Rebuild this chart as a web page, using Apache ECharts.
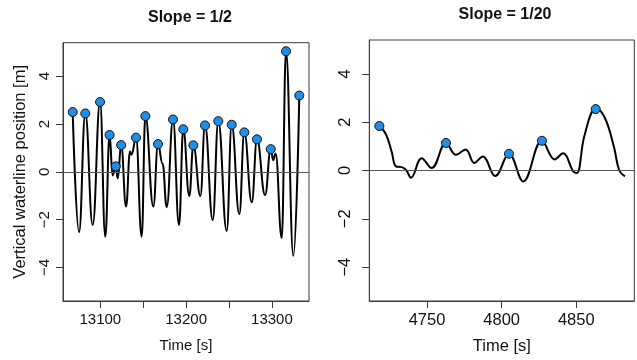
<!DOCTYPE html>
<html>
<head>
<meta charset="utf-8">
<script src="https://cdn.jsdelivr.net/npm/echarts@6/dist/echarts.min.js"></script>
<style>
html,body{margin:0;padding:0;background:#fff;}
#chart{width:637px;height:360px;}
</style>
</head>
<body>
<div id="chart"></div>
<script>
// ---- Data ----
const titles = ['Slope = 1/2', 'Slope = 1/20'];
const xAxisTitle = 'Time [s]';
const yAxisTitle = 'Vertical waterline position [m]';

// Left panel (slope 1/2): waterline trace
const leftTime = [13067.8,13075.2,13082.5,13091.1,13099.7,13105.8,13110.8,13114.3,13118.0,13120.3,13124.3,13130.0,13134.6,13136.4,13141.6,13148.2,13152.5,13161.8,13167.2,13172.5,13177.4,13184.7,13191.7,13196.7,13203.7,13208.4,13216.6,13222.0,13231.0,13237.5,13247.3,13253.1,13262.0,13267.8,13276.5,13282.6,13292.0,13298.6,13301.5,13304.3,13311.4,13316.4,13325.0,13331.9];
const leftValue = [2.50,-2.52,2.44,-2.22,2.92,-2.71,1.54,-0.15,0.23,-0.27,1.12,-1.45,0.85,0.72,1.43,-2.71,2.33,-1.45,1.16,0.35,-1.48,2.19,-2.22,1.78,-1.01,1.11,-1.01,1.94,-2.01,2.12,-2.47,1.97,-1.77,1.65,-1.27,1.36,-0.97,0.95,0.49,0.77,-2.77,5.04,-3.51,3.19];
// Left panel marked crests
const leftPeakTime = [13067.8,13082.5,13099.7,13110.8,13118.0,13124.3,13141.6,13152.5,13167.2,13184.7,13196.7,13208.4,13222.0,13237.5,13253.1,13267.8,13282.6,13298.6,13316.4,13331.9];
const leftPeakValue = [2.50,2.44,2.92,1.54,0.23,1.12,1.43,2.33,1.16,2.19,1.78,1.11,1.94,2.12,1.97,1.65,1.36,0.95,5.04,3.19];

// Right panel (slope 1/20): waterline trace
const rightTime = [4718.1,4722.5,4726.4,4729.2,4733.0,4736.0,4739.3,4746.4,4753.1,4762.7,4769.4,4775.9,4781.7,4787.3,4795.7,4804.9,4814.5,4827.0,4835.5,4841.1,4848.0,4850.4,4855.5,4863.0,4866.5,4871.0,4875.5,4878.8,4882.6];
const rightValue = [1.84,1.50,0.76,0.17,0.14,0.02,-0.30,0.51,0.10,1.14,0.65,0.87,0.31,0.58,-0.23,0.69,-0.45,1.23,0.46,0.71,-0.04,-0.10,1.45,2.54,2.45,1.90,0.90,0.00,-0.24];
const rightPeakTime = [4718.1,4762.7,4804.9,4827.0,4863.0];
const rightPeakValue = [1.84,1.14,0.69,1.23,2.54];

// Axis ticks / labels
const leftXTicks = [13100,13150,13200,13250,13300];
const leftXLabels = [13100,13200,13300];
const rightXTicks = [4750,4800,4850];
const yTicks = [-4,-2,0,2,4];

// ---- Styling / layout ----
const FONT = 'Liberation Sans, Arial, Helvetica, sans-serif';
const BOX = '#3a3a3a';
const fmtY = v => (v < 0 ? '\u2212' + Math.abs(v) : String(v));
const fmtX = v => String(v);
const zip = (a, b) => a.map((x, i) => [x, b[i]]);

const chart = echarts.init(document.getElementById('chart'), null, {renderer: 'canvas'});

function xAxisCfg(gridIndex, min, max, ticks, labels, fs, margin, nameGap) {
  return {
    type: 'value', gridIndex, min, max,
    axisLine: {show: true, onZero: false, lineStyle: {color: BOX, width: 1}},
    axisTick: {show: true, length: 7, customValues: ticks, lineStyle: {color: BOX}},
    axisLabel: {customValues: labels, color: '#111', fontSize: fs, fontFamily: FONT, margin, formatter: fmtX},
    splitLine: {show: false},
    name: xAxisTitle, nameLocation: 'middle', nameGap,
    nameTextStyle: {color: '#111', fontSize: fs, fontFamily: FONT}
  };
}
function yAxisCfg(gridIndex, fs, margin, withName) {
  const c = {
    type: 'value', gridIndex, min: -5.4, max: 5.4,
    axisLine: {show: true, lineStyle: {color: BOX, width: 1}},
    axisTick: {show: true, length: 7, customValues: yTicks, lineStyle: {color: BOX}},
    axisLabel: {customValues: yTicks, rotate: 90, color: '#111', fontSize: fs, fontFamily: FONT, margin, formatter: fmtY},
    splitLine: {show: false}
  };
  if (withName) {
    c.name = yAxisTitle; c.nameLocation = 'middle'; c.nameGap = 34; c.nameRotate = 90;
    c.nameTextStyle = {color: '#111', fontSize: 16.5, fontFamily: FONT};
  }
  return c;
}
function lineSeries(idx, t, v, smooth, mono) {
  const s = {
    type: 'line', xAxisIndex: idx, yAxisIndex: idx,
    data: zip(t, v), smooth, showSymbol: false,
    lineStyle: {color: '#000', width: 2}, z: 3,
    markLine: {
      silent: true, symbol: ['none', 'none'], label: {show: false},
      lineStyle: {color: '#555', width: 1, type: 'solid'},
      data: [{yAxis: 0}], animation: false
    }
  };
  if (mono) s.smoothMonotone = mono;
  return s;
}
function dotSeries(idx, t, v) {
  return {
    type: 'scatter', xAxisIndex: idx, yAxisIndex: idx,
    data: zip(t, v), symbol: 'circle', symbolSize: 9,
    itemStyle: {color: '#1f8ee6', borderColor: '#111', borderWidth: 1, opacity: 1}, z: 5
  };
}

chart.setOption({
  animation: false,
  backgroundColor: '#fff',
  title: [
    {text: titles[0], left: 185, top: 5, textAlign: 'center',
     textStyle: {fontSize: 16, fontWeight: 'bold', fontFamily: FONT, color: '#111'}},
    {text: titles[1], left: 500, top: 2, textAlign: 'center',
     textStyle: {fontSize: 16, fontWeight: 'bold', fontFamily: FONT, color: '#111'}}
  ],
  grid: [
    {left: 63, right: 328, top: 42.7, bottom: 59, show: true, borderColor: BOX, borderWidth: 1, backgroundColor: 'transparent'},
    {left: 369.3, right: 2.7, top: 40, bottom: 57.3, show: true, borderColor: BOX, borderWidth: 1, backgroundColor: 'transparent'}
  ],
  xAxis: [
    xAxisCfg(0, 13056.5, 13343.2, leftXTicks, leftXLabels, 15, 11, 37.5),
    xAxisCfg(1, 4711.35, 4888.85, rightXTicks, rightXTicks, 16.5, 10.5, 37)
  ],
  yAxis: [
    yAxisCfg(0, 15, 11, true),
    yAxisCfg(1, 16.5, 15, false)
  ],
  series: [
    lineSeries(0, leftTime, leftValue, 0.45, 'x'),
    dotSeries(0, leftPeakTime, leftPeakValue),
    lineSeries(1, rightTime, rightValue, 0.4, null),
    dotSeries(1, rightPeakTime, rightPeakValue)
  ]
});
</script>
</body>
</html>
